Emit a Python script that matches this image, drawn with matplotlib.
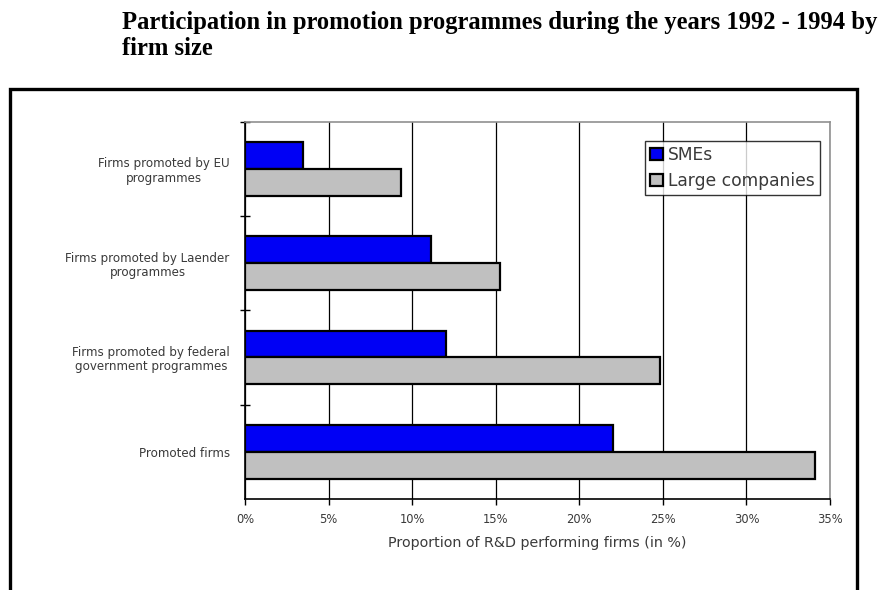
import matplotlib
matplotlib.use("Agg")
import matplotlib.pyplot as plt
from matplotlib.patches import Rectangle, Patch
from matplotlib.ticker import FuncFormatter
import numpy as np

categories = [
    "Promoted firms",
    "Firms promoted by federal\ngovernment programmes",
    "Firms promoted by Laender\nprogrammes",
    "Firms promoted by EU\nprogrammes",
]
smes = [22.0, 12.0, 11.15, 3.45]
large = [34.1, 24.8, 15.25, 9.35]
series_names = ["SMEs", "Large companies"]
x_ticks = [0, 5, 10, 15, 20, 25, 30, 35]

W, H = 882, 590
fig = plt.figure(figsize=(W / 100, H / 100), dpi=100)
fig.patch.set_facecolor("white")

sans = ["DejaVu Sans"]
txt_col = "#3a3a3a"

# Title above the framed chart
fig.text(122 / W, 1 - 11 / H,
         "Participation in promotion programmes during the years 1992 - 1994 by\nfirm size",
         ha="left", va="top", fontsize=17.7, fontweight="bold",
         family=["Liberation Serif", "DejaVu Serif"], linespacing=1.17, color="black")

# Thick outer frame around the chart
fig.patches.append(Rectangle((10 / W, -0.2), (857 - 10) / W, 1.2 - 89 / H,
                             transform=fig.transFigure, fill=False,
                             edgecolor="black", linewidth=2.4, clip_on=False))

ax = fig.add_axes([245 / W, 1 - 499 / H, (830 - 245) / W, (499 - 121.5) / H])

y = np.arange(len(categories))
h = 0.285
ax.barh(y + h / 2, smes, height=h, color="#0000F5", edgecolor="black",
        linewidth=1.6, zorder=3, label=series_names[0])
ax.barh(y - h / 2, large, height=h, color="#C0C0C0", edgecolor="black",
        linewidth=1.6, zorder=3, label=series_names[1])

ax.set_xlim(0, 35)
ax.set_ylim(-0.5, len(categories) - 0.5)

ax.set_xticks(x_ticks)
ax.xaxis.set_major_formatter(FuncFormatter(lambda v, p: f"{v:.0f}%"))
ax.grid(axis="x", color="black", linewidth=0.9, zorder=0)
ax.tick_params(axis="x", direction="out", length=4, width=1, pad=6,
               labelsize=8.3, labelcolor=txt_col)
for lbl in ax.get_xticklabels():
    lbl.set_family(sans)

ax.set_yticks(y)
ax.set_yticklabels(categories, fontsize=8.6, color=txt_col, family=sans,
                   multialignment="center", linespacing=1.15)
ax.tick_params(axis="y", which="major", length=0, pad=11)
ax.set_yticks(np.arange(len(categories)) + 0.5, minor=True)
ax.tick_params(axis="y", which="minor", direction="inout", length=7, width=1)

for s in ("left", "bottom"):
    ax.spines[s].set_color("black")
    ax.spines[s].set_linewidth(1.2)
for s in ("top", "right"):
    ax.spines[s].set_color("#909090")
    ax.spines[s].set_linewidth(1.2)

ax.set_xlabel("Proportion of R&D performing firms (in %)", fontsize=10.3,
              color=txt_col, family=sans, labelpad=7)

handles = [Patch(facecolor="#0000F5", edgecolor="black", linewidth=1.6),
           Patch(facecolor="#C0C0C0", edgecolor="black", linewidth=1.6)]
leg = ax.legend(handles, series_names, loc="upper right",
                bbox_to_anchor=((820 - 245) / (830 - 245), 1 - (141 - 121.5) / (499 - 121.5)),
                prop={"family": sans, "size": 12.3}, frameon=True, fancybox=False,
                handlelength=0.75, handleheight=0.75, handletextpad=0.3,
                borderpad=0.3, labelspacing=0.45, borderaxespad=0)
leg.get_frame().set_edgecolor("black")
leg.get_frame().set_linewidth(1.0)
for t in leg.get_texts():
    t.set_color(txt_col)

fig.savefig("out.png", dpi=100, facecolor="white")
